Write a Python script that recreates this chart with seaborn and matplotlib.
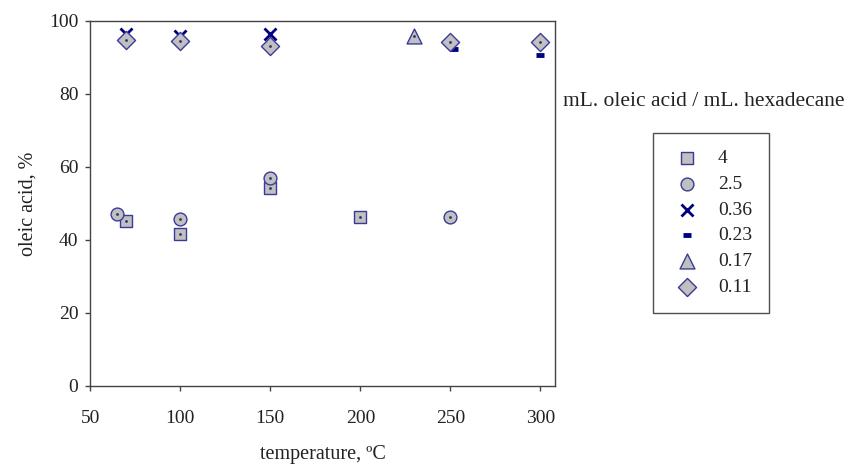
import matplotlib
matplotlib.use("Agg")
import matplotlib.pyplot as plt
import seaborn as sns

sns.set_theme(style="white")
plt.rcParams["font.family"] = ["Liberation Serif", "DejaVu Serif"]
plt.rcParams["text.color"] = "#222222"
plt.rcParams["axes.labelcolor"] = "#222222"
plt.rcParams["xtick.color"] = "#222222"
plt.rcParams["ytick.color"] = "#222222"

# temperature (C) / oleic acid (%) per ratio series
t_4 = [70, 100, 150, 200]
v_4 = [45.3, 41.6, 54.3, 46.3]
t_25 = [65, 100, 150, 250]
v_25 = [47.1, 45.7, 56.9, 46.4]
t_036 = [70, 100, 150]
v_036 = [96.5, 95.8, 96.3]
t_023 = [252, 300]
v_023 = [92.3, 90.7]
t_017 = [230]
v_017 = [95.8]
t_011 = [70, 100, 150, 250, 300]
v_011 = [94.7, 94.6, 93.2, 94.2, 94.1]

labels = ["4", "2.5", "0.36", "0.23", "0.17", "0.11"]

fig = plt.figure(figsize=(8.51, 4.66), dpi=100)
ax = fig.add_axes([0.106, 0.172, 0.546, 0.783])

edge = "#3a3a9a"
face = "#c0c0c0"
navy = "#000080"

series = [
    (t_4, v_4, "s", 75, dict(color=face, edgecolor=edge, linewidth=1)),
    (t_25, v_25, "o", 85, dict(color=face, edgecolor=edge, linewidth=1)),
    (t_036, v_036, "x", 75, dict(color=navy, linewidth=2)),
    (t_023, v_023, "_", 40, dict(color=navy, linewidth=3.5)),
    (t_017, v_017, "^", 115, dict(color=face, edgecolor=edge, linewidth=1)),
    (t_011, v_011, "D", 85, dict(color=face, edgecolor=edge, linewidth=1)),
]

order = [0, 1, 2, 4, 5, 3]
for i in order:
    t, v, m, s, kw = series[i]
    sns.scatterplot(x=t, y=v, marker=m, s=s, ax=ax, label=labels[i], zorder=3 + i * 0.1, **kw)
    if m not in ("x", "_"):
        ax.scatter(t, v, s=1, color="#333366", zorder=3.05 + i * 0.1)

ax.set_xlim(50, 308)
ax.set_ylim(0, 100)
ax.set_xticks([50, 100, 150, 200, 250, 300])
ax.set_yticks([0, 20, 40, 60, 80, 100])
ax.tick_params(axis="both", which="both", direction="out", length=3.6, width=1,
               color="#444444", labelsize=14, left=True, bottom=True)
ax.tick_params(axis="x", pad=14)
ax.tick_params(axis="y", pad=5)
for sp in ax.spines.values():
    sp.set_color("#444444")
    sp.set_linewidth(1)
ax.grid(False)

ax.set_xlabel("temperature, ºC", fontsize=14.5, labelpad=13)
ax.set_ylabel("oleic acid, %", fontsize=14.5, labelpad=8)

# legend in fixed order
handles, lbls = ax.get_legend_handles_labels()
hmap = dict(zip(lbls, handles))
leg = fig.legend([hmap[l] for l in labels], labels, loc="upper left",
                 bbox_to_anchor=(0.7673, 0.7146), frameon=True, fontsize=14,
                 fancybox=False, edgecolor="#222222", borderpad=0.85,
                 handlelength=1.8, handletextpad=0.7, labelspacing=0.42,
                 borderaxespad=0)
leg.get_frame().set_linewidth(1)
if ax.get_legend():
    ax.get_legend().remove()

fig.text(0.661, 0.7725, "mL. oleic acid / mL. hexadecane", fontsize=15.5, ha="left")

fig.savefig("out.png", dpi=100)
